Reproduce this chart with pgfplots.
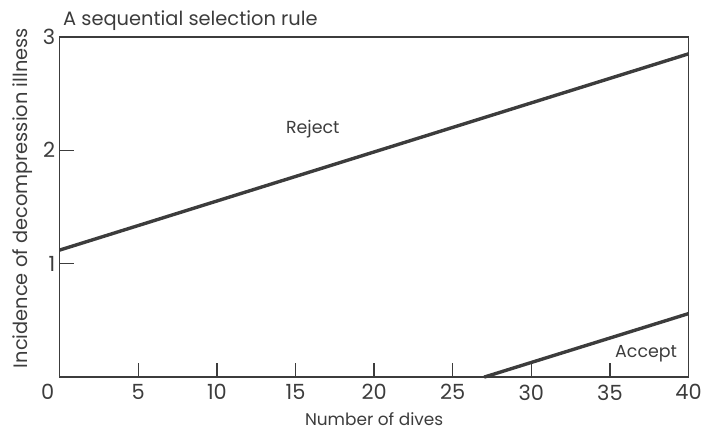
\documentclass[border=0pt]{standalone}
\usepackage{pgfplots}
\pgfplotsset{compat=1.18}
\usepackage{fontspec}
\setmainfont{Poppins}
\usetikzlibrary{calc}
\definecolor{ink}{HTML}{3C3C3C}
\begin{document}
\begin{tikzpicture}
\begin{axis}[name=ax,
  scale only axis, width=632pt, height=342pt,
  xmin=0, xmax=40, ymin=0, ymax=3,
  xtick={5,10,...,40}, ytick={1,2,3},
  extra x ticks={0},
  extra x tick style={xticklabel style={xshift=-12pt}},
  xtick pos=bottom, ytick pos=left, tick align=inside,
  major tick length=14pt,
  axis line style={ink, line width=1.6pt},
  every tick/.style={ink, line width=1.4pt},
  tick label style={font=\fontsize{21}{23}\selectfont, text=ink},
  /pgf/number format/assume math mode=true,
  xticklabel style={yshift=-4pt},
  yticklabel style={xshift=-1pt},
  xlabel={Number of dives}, ylabel={Incidence of decompression illness},
  xlabel style={font=\fontsize{17}{19}\selectfont, text=ink, yshift=-6pt},
  ylabel style={font=\fontsize{19.5}{21}\selectfont, text=ink, yshift=4pt, at={(ticklabel cs:0.526)}},
  title={A sequential selection rule},
  title style={font=\fontsize{19.5}{21}\selectfont, text=ink, at={(0,1)}, anchor=south west, yshift=-3pt},
  clip=false,
]
\addplot[ink, line width=3.4pt] coordinates {(0,1.12) (40,2.85)};
\addplot[ink, line width=3.4pt] coordinates {(27,0) (40,0.56)};
\node[font=\fontsize{17.5}{19}\selectfont, text=ink] at (axis cs:16.1,2.19) {Reject};
\node[font=\fontsize{17.5}{19}\selectfont, text=ink] at (axis cs:37.3,0.21) {Accept};
\end{axis}
\path ($(ax.south west)+(-60pt,-57pt)$) rectangle ($(ax.north east)+(13pt,37pt)$);
\end{tikzpicture}
\end{document}
